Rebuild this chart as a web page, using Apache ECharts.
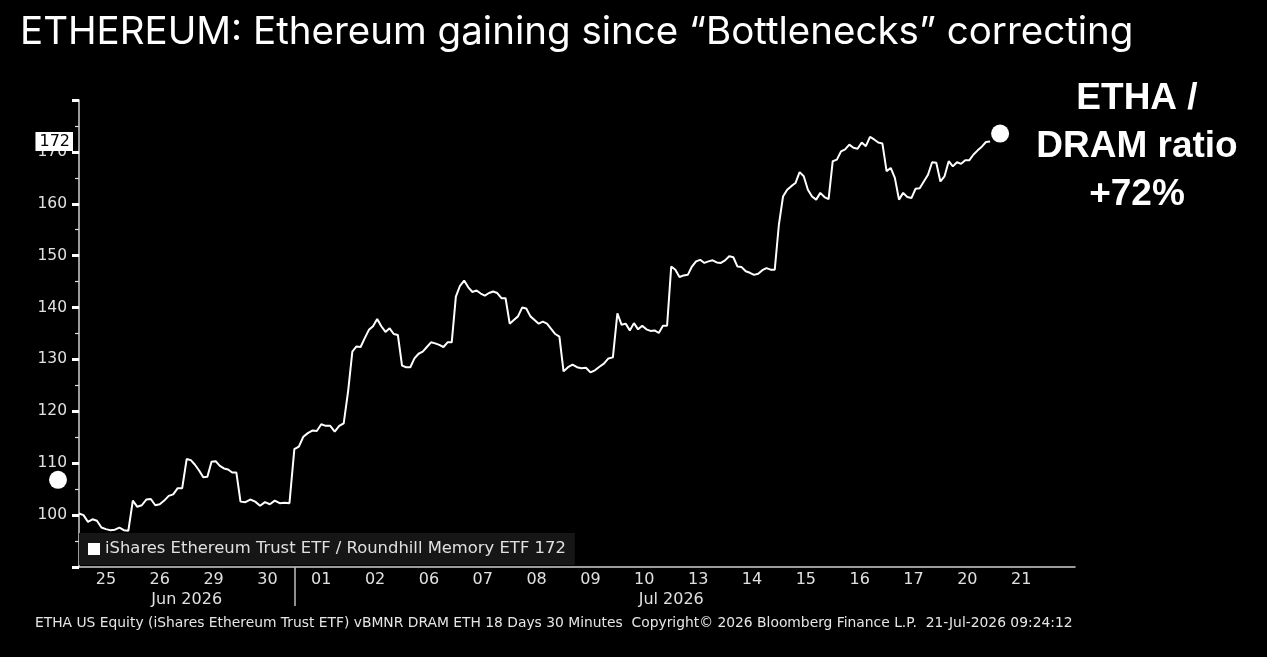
<!DOCTYPE html>
<html>
<head>
<meta charset="utf-8">
<script src="https://cdn.jsdelivr.net/npm/echarts@6.0.0/dist/echarts.min.js"></script>
<style>
  html, body { margin: 0; padding: 0; background: #000; }
  #chart { width: 1267px; height: 657px; }
</style>
</head>
<body>
<div id="chart"></div>
<script>
// trading days on the x axis (18 days, 30 minute bars)
const days = ['25', '26', '29', '30', '01', '02', '06', '07', '08', '09', '10', '13', '14', '15', '16', '17', '20', '21'];
const months = ['Jun 2026', 'Jul 2026'];
const monthCenters = [2, 11];   // middle of the June days / July days
const monthSplit = 4;           // first July day

// ETHA / DRAM ratio, read day by day (21 Jul has no bars yet)
const jun25 = [100.3, 100.0, 98.7, 99.2, 98.9, 97.6, 97.3, 97.1, 97.2, 97.6, 97.1, 97.0];
const jun26 = [102.8, 101.6, 101.9, 103.0, 103.1, 101.9, 102.1, 102.8, 103.7, 104.0, 105.2, 105.2];
const jun29 = [110.8, 110.6, 109.7, 108.6, 107.3, 107.4, 110.3, 110.4, 109.5, 109.0, 108.8, 108.2, 108.2];
const jun30 = [102.6, 102.5, 103.0, 102.6, 101.8, 102.5, 102.1, 102.8, 102.3, 102.4, 102.3];
const jul01 = [112.7, 113.2, 115.1, 115.8, 116.3, 116.2, 117.5, 117.2, 117.2, 116.1, 117.2, 117.7];
const jul02 = [124.0, 131.5, 132.5, 132.4, 134.1, 135.7, 136.4, 137.8, 136.4, 135.3, 136.0, 134.9, 134.7];
const jul06 = [128.8, 128.5, 128.5, 130.2, 131.1, 131.5, 132.4, 133.3, 133.1, 132.8, 132.4, 133.3, 133.3];
const jul07 = [142.1, 144.2, 145.2, 143.9, 143.0, 143.3, 142.7, 142.3, 142.8, 143.1, 142.8, 141.8, 141.8];
const jul08 = [136.9, 137.6, 138.3, 140.0, 139.8, 138.3, 137.6, 136.9, 137.3, 136.9, 135.9, 134.9, 134.4];
const jul09 = [127.7, 128.5, 129.0, 128.5, 128.3, 128.4, 127.5, 127.9, 128.6, 129.2, 130.2, 130.4];
const jul10 = [138.9, 136.7, 136.9, 135.6, 137.0, 135.8, 136.5, 135.8, 135.5, 135.6, 135.1, 136.5, 136.5];
const jul13 = [147.9, 147.3, 145.9, 146.2, 146.3, 147.9, 148.9, 149.2, 148.6, 148.9, 149.1, 148.7, 148.6];
const jul14 = [149.1, 149.9, 149.7, 147.9, 147.8, 147.0, 146.7, 146.3, 146.5, 147.2, 147.6, 147.3, 147.3];
const jul15 = [156.0, 161.4, 162.7, 163.4, 164.0, 166.1, 165.3, 162.7, 161.4, 160.8, 162.1, 161.3, 160.9];
const jul16 = [168.2, 168.5, 170.1, 170.5, 171.4, 170.8, 170.6, 171.8, 171.1, 172.9, 172.4, 171.8, 171.6];
const jul17 = [166.3, 166.9, 165.0, 160.8, 162.1, 161.3, 161.1, 162.9, 163.0, 164.3, 165.6, 168.0, 167.9];
const jul20 = [164.3, 165.3, 168.2, 167.2, 168.0, 167.7, 168.4, 168.4, 169.5, 170.3, 171.0, 171.9, 172.0];

const dayValues = [jun25, jun26, jun29, jun30, jul01, jul02, jul06, jul07, jul08, jul09, jul10,
                   jul13, jul14, jul15, jul16, jul17, jul20];

const yTicks = [90, 100, 110, 120, 130, 140, 150, 160, 170, 180];
const lastValue = 172;
const startDot = 106.8;
const seriesName = 'iShares Ethereum Trust ETF / Roundhill Memory ETF';

// bars spread evenly inside each day
const ratio = [];
dayValues.forEach((vals, d) => {
    vals.forEach((v, k) => ratio.push([d + k / vals.length, v]));
});

const labelFont = '"DejaVu Sans", Verdana, sans-serif';

let chart = echarts.init(document.getElementById('chart'));

let option = {
    backgroundColor: '#000',
    animation: false,
    title: [
        {
            text: 'ETHEREUM: Ethereum gaining since \u201cBottlenecks\u201d correcting',
            left: 15, top: 8,
            textStyle: { color: '#fff', fontFamily: 'Inter, sans-serif', fontSize: 38.5, fontWeight: 'normal' }
        },
        {
            text: 'ETHA /\nDRAM ratio\n+72%',
            left: 1132, top: 70,
            textAlign: 'center',
            textStyle: {
                color: '#fff', fontFamily: '"Liberation Sans", Arial, sans-serif',
                fontSize: 37, fontWeight: 'bold', lineHeight: 48
            }
        },
        {
            text: 'ETHA US Equity (iShares Ethereum Trust ETF) vBMNR DRAM ETH 18 Days 30 Minutes  Copyright\u00a9 2026 Bloomberg Finance L.P.  21-Jul-2026 09:24:12',
            left: 30, top: 611,
            textStyle: { color: '#e6e6e6', fontFamily: labelFont, fontSize: 13.85, fontWeight: 'normal' }
        }
    ],
    legend: {
        data: [seriesName],
        left: 79, top: 533,
        padding: [8, 9, 8, 9],
        backgroundColor: '#161616',
        icon: 'rect',
        itemWidth: 12, itemHeight: 12, itemGap: 4,
        formatter: name => name + ' ' + lastValue,
        textStyle: { color: '#e0e0e0', fontFamily: labelFont, fontSize: 16.4 }
    },
    grid: { left: 79, right: 192, top: 100, bottom: 90 },
    xAxis: [
        {
            type: 'value',
            min: 0, max: 18.5,
            position: 'bottom',
            splitLine: { show: false },
            axisLine: { lineStyle: { color: '#cfcfcf', width: 1.5 } },
            axisTick: { show: false },
            axisLabel: {
                customValues: days.map((d, i) => i + 0.5),
                formatter: v => days[Math.floor(v)],
                margin: 5,
                color: '#e0e0e0', fontFamily: labelFont, fontSize: 16
            }
        },
        {
            type: 'value',
            min: 0, max: 18.5,
            position: 'bottom',
            splitLine: { show: false },
            axisLine: { show: false },
            axisTick: {
                show: true, customValues: [monthSplit], length: 39, inside: false,
                lineStyle: { color: '#bfbfbf', width: 1.5 }
            },
            axisLabel: {
                customValues: monthCenters,
                formatter: v => months[monthCenters.indexOf(v)],
                margin: 25,
                color: '#e0e0e0', fontFamily: labelFont, fontSize: 16
            }
        }
    ],
    yAxis: {
        type: 'value',
        min: yTicks[0], max: yTicks[yTicks.length - 1], interval: 10,
        splitLine: { show: false },
        axisLine: { show: true, lineStyle: { color: '#cfcfcf', width: 1.5 } },
        axisTick: { show: true, length: 7, lineStyle: { color: '#fff', width: 3 } },
        minorTick: { show: true, splitNumber: 2, length: 4, lineStyle: { color: '#ddd', width: 1.2 } },
        axisLabel: {
            margin: 12,
            formatter: v => (v === yTicks[0] || v === yTicks[yTicks.length - 1]) ? '' : v,
            color: '#e0e0e0', fontFamily: labelFont, fontSize: 15.5
        }
    },
    series: [
        {
            name: seriesName,
            type: 'line',
            data: ratio,
            showSymbol: false,
            itemStyle: { color: '#fff' },
            lineStyle: { color: '#fff', width: 2 },
            markLine: {
                silent: true,
                symbol: 'none',
                lineStyle: { color: 'rgba(0,0,0,0)', width: 0 },
                label: {
                    show: true,
                    position: 'start',
                    distance: 6,
                    formatter: String(lastValue),
                    color: '#000',
                    backgroundColor: '#fff',
                    padding: [2, 3, 1, 4],
                    fontFamily: labelFont, fontSize: 16
                },
                data: [{ yAxis: lastValue }]
            },
            markPoint: {
                silent: true,
                symbol: 'circle',
                symbolSize: 18,
                symbolOffset: [10, -8],
                itemStyle: { color: '#fff' },
                label: { show: false },
                data: [{ coord: ratio[ratio.length - 1] }]
            }
        },
        {
            name: 'start',
            type: 'scatter',
            clip: false,
            data: [[0, startDot]],
            symbolSize: 18,
            symbolOffset: [-21, 0],
            itemStyle: { color: '#fff', opacity: 1 }
        }
    ]
};

option && chart.setOption(option);
</script>
</body>
</html>
